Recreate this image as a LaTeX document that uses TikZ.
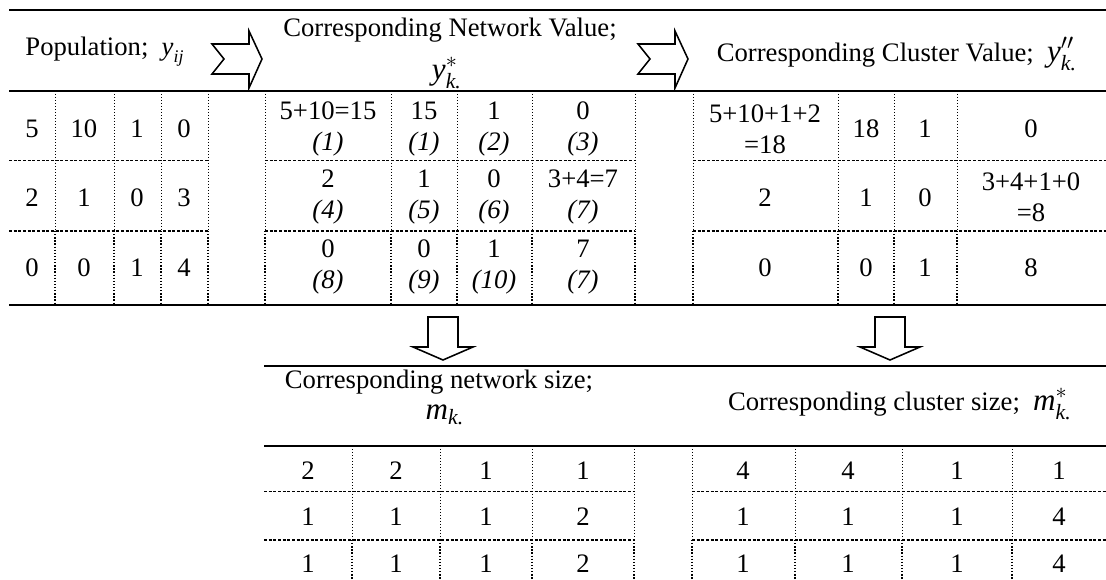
\documentclass[tikz,border=0pt]{standalone}
\usepackage{amsmath}
\usepackage{fontspec}
\setmainfont{Liberation Serif}
\usepackage{tikz}

\tikzset{
  thickrule/.style={line width=0.9pt},
  vdot/.style={line width=0.45pt, dash pattern=on 0.45pt off 0.9pt},
  vdotbold/.style={line width=0.8pt, dash pattern=on 0.6pt off 0.8pt},
  hdash/.style={line width=0.45pt, dash pattern=on 1.4pt off 0.7pt},
  hdashbold/.style={line width=0.75pt, dash pattern=on 1.4pt off 0.7pt},
  blockarrow/.style={line width=0.7pt, line join=miter},
  cell/.style={align=center, inner sep=0pt, font=\fontsize{12}{14}\selectfont},
  symb/.style={inner sep=0pt, font=\fontsize{14}{16}\selectfont}
}

\begin{document}
\begin{tikzpicture}[x=0.45pt,y=0.45pt,yscale=-1,xscale=1]
\useasboundingbox (0,0) rectangle (1106,580);

%Straight Lines: rules of the upper table
\draw[thickrule] (9,10) -- (1106,10);
\draw[thickrule] (9,91) -- (1106,91);
\draw[thickrule] (9,305) -- (1106,305);
%Straight Lines: rules of the lower table
\draw[thickrule] (264,366) -- (1106,366);
\draw[thickrule] (264,446) -- (1106,446);

%Straight Lines: column separators, upper table
\draw[vdot] (55,91) -- (55,231) (114,91) -- (114,231) (161,91) -- (161,231) (208,91) -- (208,231)
  (265,91) -- (265,231) (391,91) -- (391,231) (457,91) -- (457,231) (532,91) -- (532,231) (635,91) -- (635,231)
  (693,91) -- (693,231) (838,91) -- (838,231) (894,91) -- (894,231) (957,91) -- (957,231);
\draw[vdotbold] (55,231) -- (55,305) (114,231) -- (114,305) (161,231) -- (161,305) (208,231) -- (208,305)
  (265,231) -- (265,305) (391,231) -- (391,305) (457,231) -- (457,305) (532,231) -- (532,305) (635,231) -- (635,305)
  (693,231) -- (693,305) (838,231) -- (838,305) (894,231) -- (894,305) (957,231) -- (957,305);
%Straight Lines: row separators, upper table
\draw[hdash] (9,161) -- (208,161) (265,161) -- (635,161) (693,161) -- (1106,161);
\draw[hdashbold] (9,231) -- (208,231) (265,231) -- (635,231) (693,231) -- (1106,231);

%Straight Lines: column separators, lower table
\draw[vdot] (352,446) -- (352,540) (440,446) -- (440,540) (532,446) -- (532,540) (634,446) -- (634,540)
  (692,446) -- (692,540) (795,446) -- (795,540) (902,446) -- (902,540) (1012,446) -- (1012,540);
\draw[vdotbold] (352,540) -- (352,580) (440,540) -- (440,580) (532,540) -- (532,580) (634,540) -- (634,580)
  (692,540) -- (692,580) (795,540) -- (795,580) (902,540) -- (902,580) (1012,540) -- (1012,580);
%Straight Lines: row separators, lower table
\draw[hdash] (264,492) -- (634,492) (692,492) -- (1106,492);
\draw[hdashbold] (264,540) -- (634,540) (692,540) -- (1106,540);

%Shape: Notched Right Arrow
\draw[blockarrow] (212,44) -- (249,44) -- (249,31) -- (262,59) -- (249,88) -- (249,74) -- (212,74) -- (224,59) -- cycle;
%Shape: Notched Right Arrow
\draw[blockarrow] (638,44) -- (675,44) -- (675,31) -- (688,59) -- (675,88) -- (675,74) -- (638,74) -- (650,59) -- cycle;
%Shape: Down Arrow
\draw[blockarrow] (428,317) -- (458,317) -- (458,347) -- (473,347) -- (443,360) -- (413,347) -- (428,347) -- cycle;
%Shape: Down Arrow
\draw[blockarrow] (875,317) -- (905,317) -- (905,347) -- (920,347) -- (890,360) -- (860,347) -- (875,347) -- cycle;

% Text Node
\draw (105,52) node (pophead) [cell] {Population;\ \ $\textit{y}_{\textit{ij}}$};
% Text Node
\draw (450,30) node (nethead) [cell] {Corresponding Network Value;};
\draw (447,73) node (netsymb) [symb] {$\textit{y}^{*}_{\textit{k.}}$};
% Text Node
\draw (897,54) node (clushead) [cell] {Corresponding Cluster Value;\ \ {\fontsize{14}{16}\selectfont$\textit{y}^{\prime\prime}_{\textit{k.}}$}};
% Text Node
\draw (439,382) node (netsizehead) [cell] {Corresponding network size;};
\draw (445,415) node (netsizesymb) [symb] {$\textit{m}_{\textit{k.}}$};
% Text Node
\draw (900,404) node (clussizehead) [cell] {Corresponding cluster size;\ \ {\fontsize{14}{16}\selectfont$\textit{m}^{*}_{\textit{k.}}$}};

% Population values
\draw (32,129) node (p11) [cell] {5};
\draw (84,129) node (p12) [cell] {10};
\draw (137,129) node (p13) [cell] {1};
\draw (184,129) node (p14) [cell] {0};
\draw (32,198) node (p21) [cell] {2};
\draw (84,198) node (p22) [cell] {1};
\draw (137,198) node (p23) [cell] {0};
\draw (184,198) node (p24) [cell] {3};
\draw (32,268) node (p31) [cell] {0};
\draw (84,268) node (p32) [cell] {0};
\draw (137,268) node (p33) [cell] {1};
\draw (184,268) node (p34) [cell] {4};

% Network values
\draw (328,129) node (n11) [cell] {5+10=15\\\textit{(1)}};
\draw (424,129) node (n12) [cell] {15\\\textit{(1)}};
\draw (494,129) node (n13) [cell] {1\\\textit{(2)}};
\draw (583,129) node (n14) [cell] {0\\\textit{(3)}};
\draw (328,197) node (n21) [cell] {2\\\textit{(4)}};
\draw (424,197) node (n22) [cell] {1\\\textit{(5)}};
\draw (494,197) node (n23) [cell] {0\\\textit{(6)}};
\draw (583,197) node (n24) [cell] {3+4=7\\\textit{(7)}};
\draw (328,267) node (n31) [cell] {0\\\textit{(8)}};
\draw (424,267) node (n32) [cell] {0\\\textit{(9)}};
\draw (494,267) node (n33) [cell] {1\\\textit{(10)}};
\draw (583,267) node (n34) [cell] {7\\\textit{(7)}};

% Cluster values
\draw (765,129) node (c11) [cell] {5+10+1+2\\=18};
\draw (866,129) node (c12) [cell] {18};
\draw (925,129) node (c13) [cell] {1};
\draw (1031,129) node (c14) [cell] {0};
\draw (765,198) node (c21) [cell] {2};
\draw (866,198) node (c22) [cell] {1};
\draw (925,198) node (c23) [cell] {0};
\draw (1031,197) node (c24) [cell] {3+4+1+0\\=8};
\draw (765,268) node (c31) [cell] {0};
\draw (866,268) node (c32) [cell] {0};
\draw (925,268) node (c33) [cell] {1};
\draw (1031,268) node (c34) [cell] {8};

% Network sizes
\draw (308,471) node (s11) [cell] {2};
\draw (396,471) node (s12) [cell] {2};
\draw (486,471) node (s13) [cell] {1};
\draw (583,471) node (s14) [cell] {1};
\draw (308,517) node (s21) [cell] {1};
\draw (396,517) node (s22) [cell] {1};
\draw (486,517) node (s23) [cell] {1};
\draw (583,517) node (s24) [cell] {2};
\draw (308,564) node (s31) [cell] {1};
\draw (396,564) node (s32) [cell] {1};
\draw (486,564) node (s33) [cell] {1};
\draw (583,564) node (s34) [cell] {2};

% Cluster sizes
\draw (743,471) node (k11) [cell] {4};
\draw (848,471) node (k12) [cell] {4};
\draw (957,471) node (k13) [cell] {1};
\draw (1059,471) node (k14) [cell] {1};
\draw (743,517) node (k21) [cell] {1};
\draw (848,517) node (k22) [cell] {1};
\draw (957,517) node (k23) [cell] {1};
\draw (1059,517) node (k24) [cell] {4};
\draw (743,564) node (k31) [cell] {1};
\draw (848,564) node (k32) [cell] {1};
\draw (957,564) node (k33) [cell] {1};
\draw (1059,564) node (k34) [cell] {4};
\end{tikzpicture}
\end{document}
